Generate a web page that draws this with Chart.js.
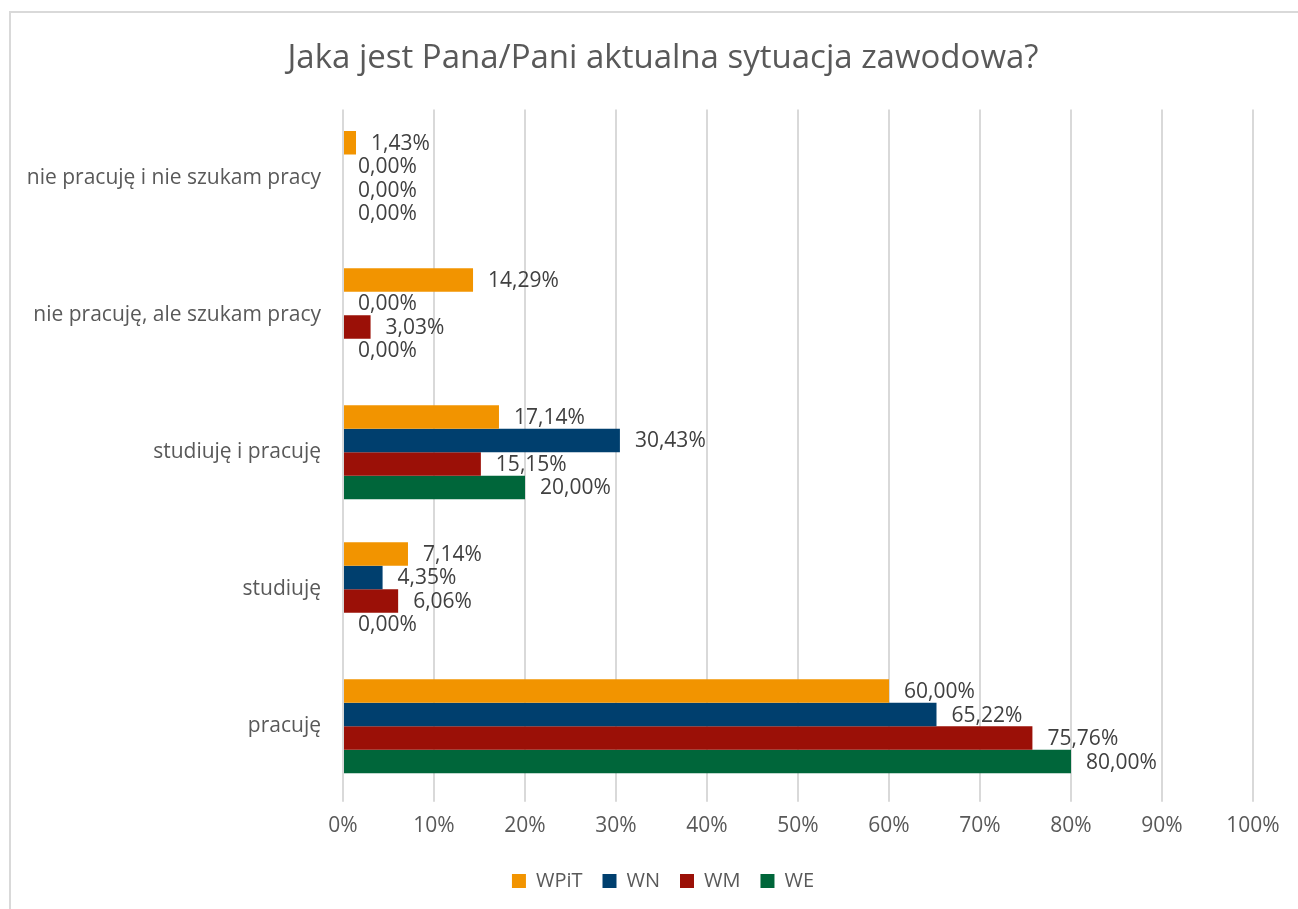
<!DOCTYPE html>
<html>
<head>
<meta charset="utf-8">
<script src="https://cdn.jsdelivr.net/npm/chart.js@4/dist/chart.umd.min.js"></script>
<style>
html,body{margin:0;padding:0;background:#fff;}
#wrap{position:relative;width:1298px;height:909px;}
canvas{display:block;}
</style>
</head>
<body>
<div id="wrap"><canvas id="c" width="1298" height="909"></canvas></div>
<script>
const categories = ["nie pracuję i nie szukam pracy", "nie pracuję, ale szukam pracy", "studiuję i pracuję", "studiuję", "pracuję"];
const seriesNames = ["WPiT", "WN", "WM", "WE"];
const wpit = [1.43, 14.29, 17.14, 7.14, 60.00];
const wn   = [0.00, 0.00, 30.43, 4.35, 65.22];
const wm   = [0.00, 3.03, 15.15, 6.06, 75.76];
const we   = [0.00, 0.00, 20.00, 0.00, 80.00];
const xTicks = [0, 10, 20, 30, 40, 50, 60, 70, 80, 90, 100];
const colors = ["#F29400", "#003F6E", "#9B1007", "#00663A"];

const FONT = "'Open Sans', sans-serif";
const RIGHT_PAD = -28;

const bgPlugin = {
  id: 'bg',
  beforeDraw(chart) {
    const ctx = chart.ctx;
    ctx.save();
    ctx.fillStyle = '#fff';
    ctx.fillRect(0, 0, chart.width, chart.height);
    ctx.strokeStyle = '#d9d9d9';
    ctx.lineWidth = 2;
    ctx.beginPath();
    ctx.moveTo(10, chart.height + 5);
    ctx.lineTo(10, 12);
    ctx.lineTo(chart.width + 5, 12);
    ctx.stroke();
    ctx.restore();
  }
};

const labelPlugin = {
  id: 'valueLabels',
  afterDatasetsDraw(chart) {
    const ctx = chart.ctx;
    ctx.save();
    ctx.font = "21px " + FONT;
    ctx.fillStyle = '#404040';
    ctx.textAlign = 'left';
    ctx.textBaseline = 'middle';
    chart.data.datasets.forEach((ds, i) => {
      const meta = chart.getDatasetMeta(i);
      meta.data.forEach((el, j) => {
        const v = ds.data[j];
        const txt = v.toFixed(2).replace('.', ',') + '%';
        ctx.fillText(txt, el.x + 15, el.y + 1);
      });
    });
    ctx.restore();
  }
};

new Chart(document.getElementById('c'), {
  type: 'bar',
  data: {
    labels: categories,
    datasets: [wpit, wn, wm, we].map((d, i) => ({
      label: seriesNames[i],
      data: d,
      backgroundColor: colors[i],
      borderWidth: 0,
      categoryPercentage: 0.686,
      barPercentage: 1.0
    }))
  },
  options: {
    indexAxis: 'y',
    responsive: false,
    animation: false,
    devicePixelRatio: 1,
    layout: { padding: { left: 0, right: RIGHT_PAD, top: 0, bottom: 8 } },
    plugins: {
      title: {
        display: true,
        text: 'Jaka jest Pana/Pani aktualna sytuacja zawodowa?',
        color: '#595959',
        font: { family: FONT, size: 33, weight: 'normal' },
        padding: { top: 39, bottom: 31 }
      },
      legend: {
        position: 'bottom',
        labels: {
          color: '#595959',
          font: { family: FONT, size: 20 },
          boxWidth: 14,
          boxHeight: 14,
          padding: 20
        }
      },
      tooltip: { enabled: false }
    },
    scales: {
      x: {
        min: 0,
        max: 100,
        afterBuildTicks(scale) { scale.ticks = xTicks.map(v => ({ value: v })); },
        afterFit(scale) { scale.paddingRight = 45; },
        ticks: {
          color: '#595959',
          font: { family: FONT, size: 21 },
          padding: 12,
          callback: v => v + '%'
        },
        grid: { color: '#d9d9d9', lineWidth: 2, drawTicks: true, tickLength: 7, tickColor: '#d9d9d9' },
        border: { display: false }
      },
      y: {
        afterFit(scale) { scale.width = 343; },
        ticks: {
          color: '#595959',
          font: { family: FONT, size: 21 },
          padding: 22
        },
        grid: { display: false, drawTicks: false },
        border: { display: false }
      }
    }
  },
  plugins: [bgPlugin, labelPlugin]
});
</script>
</body>
</html>
